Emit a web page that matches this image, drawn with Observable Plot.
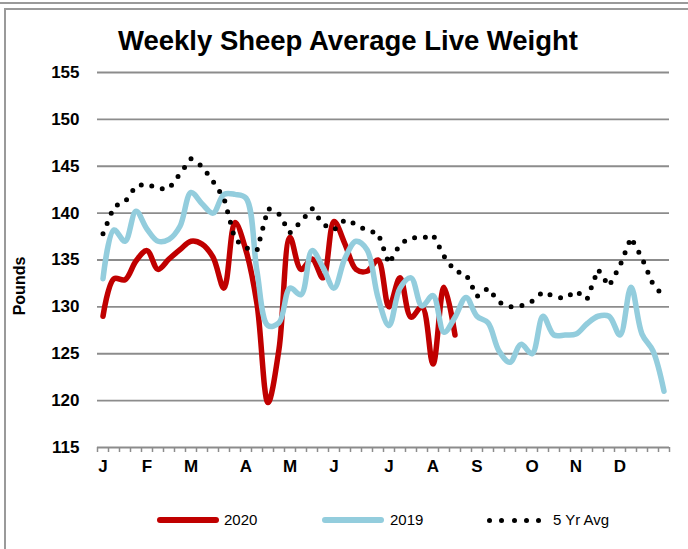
<!DOCTYPE html>
<html>
<head>
<meta charset="utf-8">
<script src="https://cdn.jsdelivr.net/npm/d3@7"></script>
<script src="https://cdn.jsdelivr.net/npm/@observablehq/plot@0.6"></script>
<style>
  html, body { margin: 0; padding: 0; background: #fff; }
  body { width: 688px; height: 549px; position: relative; overflow: hidden;
         font-family: "Liberation Sans", Arial, sans-serif; }
  #topline { position: absolute; left: 0; top: 2px; width: 688px; height: 0; border-top: 2px solid #9a9a9a; }
  #frame { position: absolute; left: 4px; top: 8px; width: 800px; height: 700px;
           border-left: 2px solid #9a9a9a; border-top: 2px solid #9a9a9a; }
  #title { position: absolute; left: 4px; width: 688px; top: 25px; text-align: center;
           font-weight: bold; font-size: 27.5px; color: #000; }
  #ylabel { position: absolute; left: 20px; top: 286px; transform: translate(-50%, -50%) rotate(-90deg);
            font-weight: bold; font-size: 16px; white-space: nowrap; }
  #chart { position: absolute; left: 0; top: 0; }
  .leg-line { position: absolute; height: 6px; border-radius: 3px; }
  .leg-text { position: absolute; font-size: 15px; top: 511px; }
  .leg-dot { position: absolute; width: 5px; height: 5px; border-radius: 50%; background: #000; top: 518px; }
</style>
</head>
<body>
<div id="topline"></div>
<div id="frame"></div>
<div id="chart"></div>
<div id="title">Weekly Sheep Average Live Weight</div>
<div id="ylabel">Pounds</div>
<div id="legend"></div>
<script>
// ---- data ----
const weeks = [1,2,3,4,5,6,7,8,9,10,11,12,13,14,15,16,17,18,19,20,21,22,23,24,25,26,
               27,28,29,30,31,32,33,34,35,36,37,38,39,40,41,42,43,44,45,46,47,48,49,50,51,52];
const avg5yr = [137.8,140.7,141.2,142.9,143.1,142.6,142.6,144.2,145.8,145.0,143.4,141.6,137.2,
                136.3,136.0,140.5,139.9,137.9,139.1,140.5,138.8,138.2,139.3,138.8,138.1,137.9,
                134.6,136.7,137.4,137.3,137.7,135.4,133.8,133.5,131.1,132.0,130.5,130.0,130.1,
                130.6,131.6,131.1,130.9,131.7,130.8,134.0,132.2,134.4,137.4,135.2,132.4,131.1];
const y2019 = [133.0,138.2,137.0,140.2,138.3,137.0,137.2,138.6,142.2,141.0,140.0,142.0,142.0,
               141.6,133.8,128.0,128.3,132.0,131.3,136.0,134.2,132.0,135.2,137.0,136.1,131.0,
               128.0,132.0,133.1,130.1,131.2,127.3,128.9,131.0,129.0,128.3,125.3,124.1,126.0,
               125.0,129.0,127.0,127.0,127.1,128.2,129.0,129.0,127.0,132.1,127.1,125.3,121.0];
const y2020 = [129.0,133.0,132.9,134.9,136.0,134.0,135.1,136.1,137.0,136.7,135.3,132.0,139.0,
               136.0,130.3,119.8,125.5,137.4,134.0,135.1,133.1,139.1,136.7,134.0,133.8,135.0,
               130.0,133.1,128.9,130.0,123.9,132.1,127.0];
const monthLabels = ["J","F","M","A","M","J","J","A","S","O","N","D"];
const monthWeeks = [1,5,9,14,18,22,27,31,35,40,44,48];
const yTicks = [115,120,125,130,135,140,145,150,155];

const seriesNames = ["2020","2019","5 Yr Avg"];
const colors = {"2020": "#C00000", "2019": "#93CDDD", "5 Yr Avg": "#000000"};

// ---- build tables ----
const rows2020 = y2020.map((v, i) => ({week: weeks[i], value: v}));
const rows2019 = y2019.map((v, i) => ({week: weeks[i], value: v}));
const rowsAvg  = avg5yr.map((v, i) => ({week: weeks[i], value: v}));
const monthMap = new Map(monthWeeks.map((w, i) => [w, monthLabels[i]]));
const weekEdges = d3.range(0.5, 53, 1);

const chart = Plot.plot({
  width: 688,
  height: 485,
  marginLeft: 97,
  marginRight: 19,
  marginTop: 72,
  marginBottom: 38,
  style: {fontFamily: "'Liberation Sans', Arial, sans-serif", background: "transparent", color: "#000"},
  x: {domain: [0.5, 52.5], label: null},
  y: {domain: [115, 155], label: null},
  marks: [
    Plot.gridY(yTicks, {stroke: "#8c8c8c", strokeOpacity: 1, strokeWidth: 1.8}),
    Plot.axisX(weekEdges, {tickSize: 5, stroke: "#8c8c8c", strokeWidth: 1.5, tickFormat: null, text: null, label: null}),
    Plot.axisX(monthWeeks, {tickSize: 0, tickPadding: 12, tickFormat: d => monthMap.get(d),
                            fontWeight: "bold", fontSize: 17, fill: "#000", label: null}),
    Plot.axisY(yTicks, {tickSize: 0, tickPadding: 18, fontWeight: "bold", fontSize: 17, fill: "#000", label: null}),
    Plot.line(rows2020, {x: "week", y: "value", stroke: colors["2020"], strokeWidth: 5.5, curve: "catmull-rom", strokeLinejoin: "round"}),
    Plot.line(rows2019, {x: "week", y: "value", stroke: colors["2019"], strokeWidth: 5.5, curve: "catmull-rom", strokeLinejoin: "round"}),
    Plot.line(rowsAvg, {x: "week", y: "value", stroke: colors["5 Yr Avg"], strokeWidth: 5,
                        strokeDasharray: "0 11", strokeLinecap: "round"})
  ]
});
document.getElementById("chart").appendChild(chart);

// ---- legend ----
const legend = document.getElementById("legend");
const legendPos = {"2020": {line: 157, text: 224}, "2019": {line: 322, text: 390}, "5 Yr Avg": {line: 487, text: 553}};
seriesNames.forEach(name => {
  const p = legendPos[name];
  if (name === "5 Yr Avg") {
    for (let k = 0; k < 5; k++) {
      const d = document.createElement("div");
      d.className = "leg-dot";
      d.style.left = (p.line + k * 12.3) + "px";
      legend.appendChild(d);
    }
  } else {
    const l = document.createElement("div");
    l.className = "leg-line";
    l.style.left = p.line + "px";
    l.style.top = "517px";
    l.style.width = "62px";
    l.style.background = colors[name];
    legend.appendChild(l);
  }
  const t = document.createElement("div");
  t.className = "leg-text";
  t.style.left = p.text + "px";
  t.textContent = name;
  legend.appendChild(t);
});
</script>
</body>
</html>
